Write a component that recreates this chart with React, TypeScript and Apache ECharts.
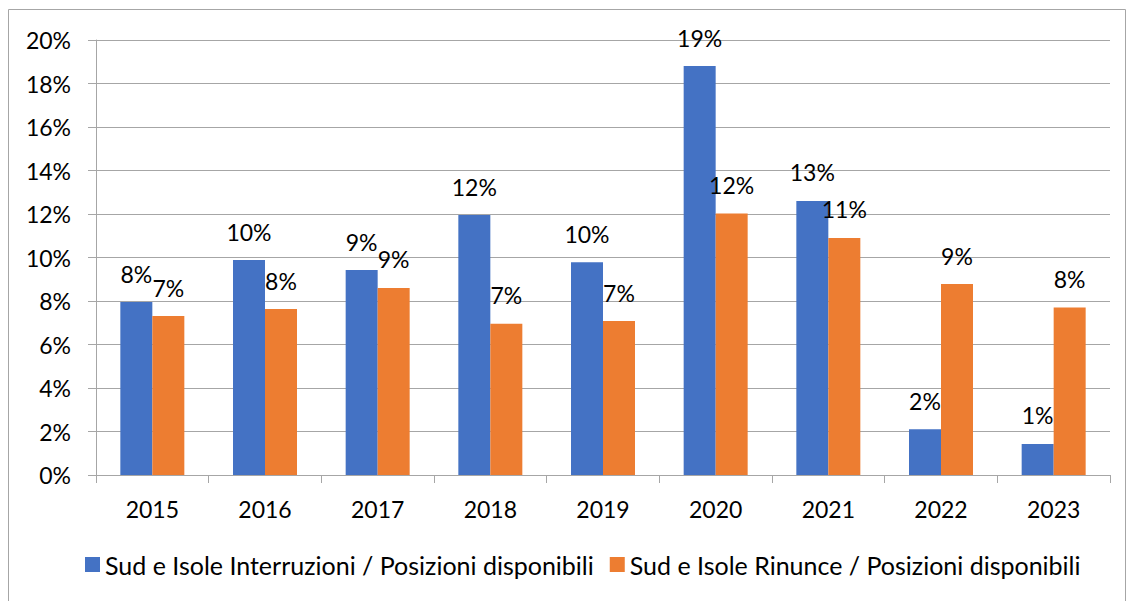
import React, { useEffect, useRef } from "react";
import * as echarts from "echarts";

const categories = ["2015", "2016", "2017", "2018", "2019", "2020", "2021", "2022", "2023"];
const interruzioni = [7.95, 9.88, 9.42, 11.95, 9.78, 18.8, 12.6, 2.1, 1.43];
const rinunce = [7.31, 7.63, 8.6, 6.95, 7.08, 12.02, 10.9, 8.78, 7.7];
const seriesNames = [
  "Sud e Isole Interruzioni / Posizioni disponibili",
  "Sud e Isole Rinunce / Posizioni disponibili",
];
const yTicks = { min: 0, max: 20, interval: 2 };

const FONT = "Lato, 'Open Sans', sans-serif";

export default function App() {
  const ref = useRef<HTMLDivElement>(null);
  useEffect(() => {
    if (!ref.current) return;
    const chart = echarts.init(ref.current, null, { renderer: "svg" });
    const label = {
      show: true,
      position: "top" as const,
      distance: 17,
      fontSize: 23,
      fontFamily: FONT,
      color: "#000",
      formatter: (p: any) => Math.round(p.value) + "%",
    };
    chart.setOption({
      animation: false,
      textStyle: { fontFamily: FONT },
      graphic: [
        {
          type: "rect",
          shape: { x: 8.5, y: 9.5, width: 1117, height: 600 },
          style: { fill: "none", stroke: "#a6a6a6", lineWidth: 1 },
        },
      ],
      grid: { left: 96, right: 16, top: 40, bottom: 126 },
      legend: {
        top: 547,
        left: 80,
        itemWidth: 15,
        itemHeight: 15,
        itemGap: 16,
        icon: "rect",
        textStyle: { fontSize: 25, fontFamily: FONT, color: "#000" },
        data: seriesNames,
      },
      xAxis: {
        type: "category",
        data: categories,
        axisLine: { lineStyle: { color: "#a6a6a6", width: 1 } },
        axisTick: { show: true, length: 8, alignWithLabel: false, lineStyle: { color: "#a6a6a6" } },
        axisLabel: { fontSize: 23, color: "#000", margin: 22, fontFamily: FONT },
      },
      yAxis: {
        type: "value",
        min: yTicks.min,
        max: yTicks.max,
        interval: yTicks.interval,
        axisLine: { show: true, lineStyle: { color: "#a6a6a6", width: 1 } },
        axisTick: { show: true, length: 8, lineStyle: { color: "#a6a6a6" } },
        axisLabel: { fontSize: 23, color: "#000", margin: 25, formatter: "{value}%", fontFamily: FONT },
        splitLine: { lineStyle: { color: "#a6a6a6", width: 1 } },
      },
      series: [
        {
          name: seriesNames[0],
          type: "bar",
          data: interruzioni,
          barWidth: 32,
          barGap: "0%",
          itemStyle: { color: "#4472c4" },
          label,
        },
        {
          name: seriesNames[1],
          type: "bar",
          data: rinunce,
          barWidth: 32,
          barGap: "0%",
          itemStyle: { color: "#ed7d31" },
          label,
        },
      ],
    });
    return () => chart.dispose();
  }, []);
  return (
    <div
      ref={ref}
      style={{ position: "absolute", left: 0, top: 0, width: 1126, height: 601, background: "#fff" }}
    />
  );
}
